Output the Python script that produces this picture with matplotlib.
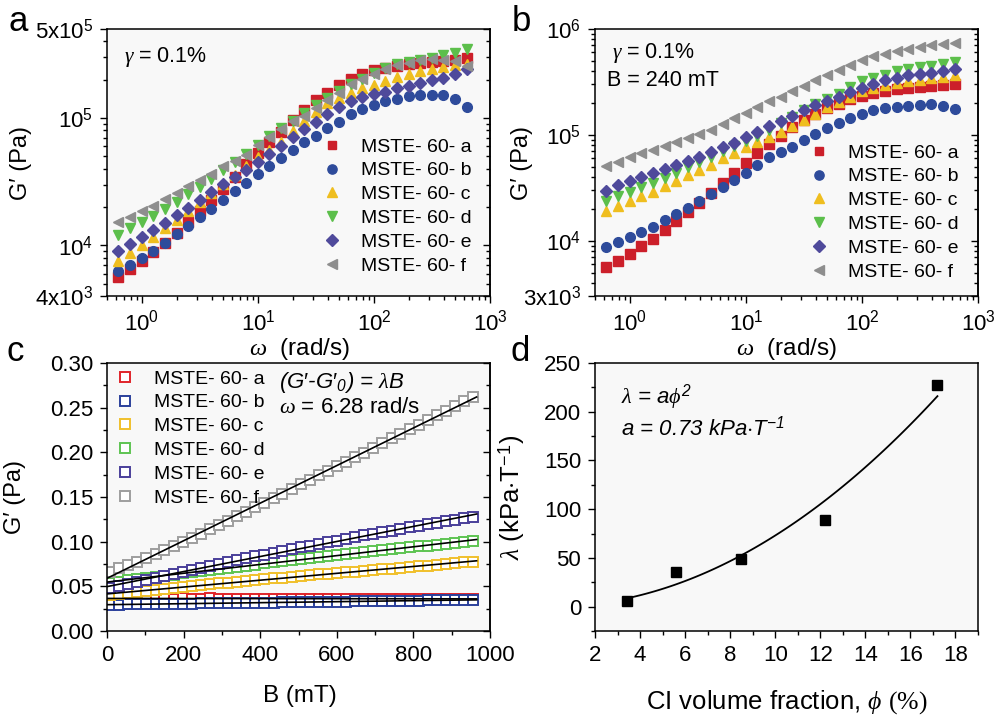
import matplotlib

matplotlib.use("Agg")
import matplotlib.pyplot as plt
import numpy as np
from matplotlib.ticker import FixedLocator, NullFormatter, MultipleLocator, FormatStrFormatter

plt.rcParams["font.family"] = ["Liberation Sans", "DejaVu Sans"]
plt.rcParams["mathtext.fontset"] = "custom"
plt.rcParams["mathtext.rm"] = "Liberation Sans"
plt.rcParams["mathtext.it"] = "Liberation Serif:italic"
plt.rcParams["mathtext.sf"] = "Liberation Sans:italic"
plt.rcParams["mathtext.bf"] = "Liberation Serif"
plt.rcParams["axes.linewidth"] = 1.1

# ---- data (a, b: log10 G') ----
omega = [0.628, 0.791, 0.995, 1.25, 1.58, 1.99, 2.50, 3.15, 3.97, 4.99, 6.28,
         7.91, 9.95, 12.5, 15.8, 19.9, 25.0, 31.5, 39.7, 49.9, 62.8, 79.1,
         99.5, 125, 158, 199, 250, 315, 397, 499, 628]
samples = ["a", "b", "c", "d", "e", "f"]

a_logG_a = [3.755, 3.812, 3.880, 3.950, 4.020, 4.098, 4.184, 4.268, 4.359, 4.445, 4.536, 4.640, 4.723, 4.815, 4.893, 4.984,
            5.065, 5.140, 5.200, 5.258, 5.305, 5.344, 5.375, 5.394, 5.410, 5.422, 5.430, 5.440, 5.448, 5.455, 5.469]
a_logG_b = [3.799, 3.846, 3.903, 3.958, 4.016, 4.088, 4.153, 4.219, 4.289, 4.359, 4.424, 4.492, 4.562, 4.625, 4.688, 4.750,
            4.810, 4.862, 4.919, 4.971, 5.030, 5.070, 5.100, 5.130, 5.153, 5.169, 5.180, 5.184, 5.182, 5.153, 5.083]
a_logG_c = [3.880, 3.937, 4.002, 4.062, 4.133, 4.200, 4.270, 4.340, 4.410, 4.480, 4.550, 4.620, 4.690, 4.750, 4.815, 4.896,
            4.979, 5.049, 5.117, 5.160, 5.200, 5.235, 5.262, 5.291, 5.323, 5.348, 5.370, 5.388, 5.400, 5.414, 5.427]
a_logG_d = [4.080, 4.133, 4.184, 4.231, 4.284, 4.341, 4.401, 4.458, 4.523, 4.588, 4.653, 4.719, 4.791, 4.860, 4.920, 4.980,
            5.040, 5.100, 5.160, 5.210, 5.270, 5.310, 5.350, 5.395, 5.422, 5.440, 5.455, 5.473, 5.495, 5.513, 5.539]
a_logG_e = [3.958, 4.010, 4.062, 4.120, 4.177, 4.237, 4.297, 4.354, 4.419, 4.479, 4.536, 4.594, 4.653, 4.719, 4.780, 4.850,
            4.914, 4.970, 5.030, 5.085, 5.135, 5.165, 5.190, 5.208, 5.234, 5.252, 5.273, 5.297, 5.317, 5.348, 5.383]
a_logG_f = [4.184, 4.219, 4.268, 4.307, 4.362, 4.414, 4.466, 4.510, 4.562, 4.620, 4.661, 4.713, 4.791, 4.854, 4.911, 4.974,
            5.018, 5.078, 5.145, 5.198, 5.265, 5.305, 5.346, 5.385, 5.418, 5.434, 5.453, 5.461, 5.455, 5.448, 5.409]

b_logG_a = [3.748, 3.808, 3.874, 3.947, 4.019, 4.101, 4.186, 4.268, 4.354, 4.454, 4.549, 4.643, 4.738, 4.830, 4.915, 4.990,
            5.070, 5.140, 5.200, 5.250, 5.295, 5.335, 5.370, 5.395, 5.416, 5.432, 5.442, 5.451, 5.457, 5.473, 5.482]
b_logG_b = [3.937, 3.985, 4.032, 4.082, 4.133, 4.196, 4.253, 4.312, 4.378, 4.442, 4.511, 4.574, 4.643, 4.716, 4.789, 4.842,
            4.889, 4.953, 5.009, 5.063, 5.111, 5.158, 5.199, 5.230, 5.253, 5.267, 5.277, 5.286, 5.293, 5.277, 5.245]
b_logG_c = [4.281, 4.328, 4.378, 4.423, 4.464, 4.517, 4.568, 4.622, 4.669, 4.719, 4.779, 4.833, 4.883, 4.930, 4.980, 5.030,
            5.080, 5.140, 5.200, 5.260, 5.310, 5.360, 5.410, 5.442, 5.473, 5.489, 5.504, 5.520, 5.536, 5.551, 5.567]
b_logG_d = [4.378, 4.423, 4.464, 4.505, 4.543, 4.590, 4.643, 4.694, 4.748, 4.795, 4.851, 4.896, 4.940, 4.990, 5.050, 5.110,
            5.170, 5.235, 5.290, 5.340, 5.390, 5.450, 5.504, 5.536, 5.568, 5.599, 5.621, 5.637, 5.653, 5.669, 5.684]
b_logG_e = [4.473, 4.527, 4.568, 4.600, 4.637, 4.675, 4.716, 4.757, 4.795, 4.842, 4.883, 4.927, 4.978, 5.031, 5.080, 5.130,
            5.180, 5.230, 5.280, 5.320, 5.360, 5.400, 5.445, 5.482, 5.514, 5.539, 5.561, 5.577, 5.583, 5.602, 5.625]
b_logG_f = [4.707, 4.748, 4.789, 4.827, 4.858, 4.896, 4.931, 4.969, 5.009, 5.050, 5.100, 5.155, 5.210, 5.262, 5.315, 5.362,
            5.410, 5.463, 5.514, 5.568, 5.615, 5.662, 5.703, 5.741, 5.766, 5.788, 5.810, 5.829, 5.845, 5.861, 5.867]

# ---- data (c: G' vs field) ----
B_mT = [8, 32, 55, 79, 103, 127, 150, 174, 198, 221, 245, 269, 292, 316, 340, 364, 387, 411, 435, 458, 482,
        506, 529, 553, 577, 601, 624, 648, 672, 695, 719, 743, 766, 790, 814, 838, 861, 885, 909, 932, 956]
c_G_a = [0.0366, 0.0365, 0.0364, 0.0365, 0.0364, 0.0363, 0.0364, 0.0363, 0.0364, 0.0363, 0.0363, 0.0364, 0.0363, 0.0362,
         0.0363, 0.0362, 0.0363, 0.0362, 0.0362, 0.0363, 0.0362, 0.0362, 0.0361, 0.0362, 0.0361, 0.0362, 0.0361, 0.0361,
         0.0362, 0.0361, 0.0361, 0.0360, 0.0361, 0.0360, 0.0361, 0.0360, 0.0360, 0.0361, 0.0360, 0.0360, 0.0360]
c_G_b = [0.0295, 0.0296, 0.0298, 0.0299, 0.0300, 0.0302, 0.0303, 0.0304, 0.0306, 0.0307, 0.0308, 0.0310, 0.0311, 0.0312,
         0.0314, 0.0315, 0.0316, 0.0318, 0.0319, 0.0320, 0.0322, 0.0323, 0.0324, 0.0326, 0.0327, 0.0328, 0.0330, 0.0331,
         0.0332, 0.0334, 0.0335, 0.0336, 0.0338, 0.0339, 0.0340, 0.0342, 0.0343, 0.0344, 0.0346, 0.0347, 0.0348]
c_G_c = [0.0405, 0.0417, 0.0428, 0.0439, 0.0450, 0.0461, 0.0472, 0.0482, 0.0492, 0.0502, 0.0512, 0.0522, 0.0532, 0.0542,
         0.0552, 0.0561, 0.0570, 0.0579, 0.0588, 0.0597, 0.0606, 0.0615, 0.0624, 0.0633, 0.0641, 0.0649, 0.0657, 0.0665,
         0.0673, 0.0681, 0.0689, 0.0698, 0.0707, 0.0716, 0.0724, 0.0733, 0.0742, 0.0751, 0.0760, 0.0768, 0.0777]
c_G_d = [0.0540, 0.0553, 0.0567, 0.0580, 0.0593, 0.0606, 0.0619, 0.0632, 0.0645, 0.0658, 0.0671, 0.0683, 0.0696, 0.0708,
         0.0720, 0.0732, 0.0744, 0.0756, 0.0768, 0.0780, 0.0792, 0.0804, 0.0815, 0.0827, 0.0838, 0.0849, 0.0860, 0.0871,
         0.0882, 0.0893, 0.0904, 0.0915, 0.0926, 0.0936, 0.0947, 0.0957, 0.0968, 0.0978, 0.0988, 0.0998, 0.1010]
c_G_e = [0.0480, 0.0504, 0.0527, 0.0550, 0.0573, 0.0596, 0.0619, 0.0641, 0.0663, 0.0685, 0.0707, 0.0729, 0.0750, 0.0771,
         0.0792, 0.0813, 0.0834, 0.0855, 0.0875, 0.0895, 0.0915, 0.0935, 0.0955, 0.0975, 0.0994, 0.1013, 0.1032, 0.1051,
         0.1070, 0.1088, 0.1106, 0.1124, 0.1142, 0.1160, 0.1177, 0.1194, 0.1211, 0.1228, 0.1245, 0.1262, 0.1279]
c_G_f = [0.0665, 0.0700, 0.0737, 0.0776, 0.0817, 0.0860, 0.0904, 0.0949, 0.0995, 0.1042, 0.1090, 0.1138, 0.1187, 0.1236,
         0.1286, 0.1336, 0.1386, 0.1437, 0.1488, 0.1539, 0.1590, 0.1641, 0.1692, 0.1743, 0.1794, 0.1845, 0.1896, 0.1947,
         0.1998, 0.2049, 0.2100, 0.2155, 0.2207, 0.2259, 0.2311, 0.2363, 0.2415, 0.2467, 0.2519, 0.2571, 0.2623]

# ---- data (d: lambda vs CI fraction) ----
phi_pct = [3.4, 5.6, 8.5, 12.2, 17.2]
lam_kPa_T = [6, 36, 49, 89, 227]
a_fit = 0.73

MARKERS = ["s", "o", "^", "v", "D", "<"]
FILLED = ["#cc1f2a", "#2e4b9b", "#efbe1f", "#5cbf4b", "#4f4a9b", "#8e8e8e"]
OPEN = ["#e0242a", "#2b409b", "#f0c02c", "#5ec452", "#4a3f9a", "#9e9e9e"]
MSIZE = [6.5, 7.0, 7.5, 7.5, 6.5, 7.5]
BG = "#f8f8f8"
TICK_FS = 16

W, H = 997, 715
fig = plt.figure(figsize=(W / 100, H / 100), dpi=100)


def box(l, t, r, b):
    return [l / W, 1 - b / H, (r - l) / W, (b - t) / H]


def fpos(x, y):
    return x / W, 1 - y / H


def style(ax, yticks=None, yminor=None, right=True):
    ax.set_facecolor(BG)
    ax.tick_params(which="both", direction="out", width=1.0, labelsize=TICK_FS, top=False, right=False, pad=5)
    ax.tick_params(which="major", length=5)
    ax.tick_params(which="minor", length=3)
    if right:
        sec = ax.secondary_yaxis("right")
        if yticks is not None:
            sec.yaxis.set_major_locator(FixedLocator(yticks))
        if yminor is not None:
            sec.yaxis.set_minor_locator(FixedLocator(yminor))
        sec.yaxis.set_major_formatter(NullFormatter())
        sec.yaxis.set_minor_formatter(NullFormatter())
        sec.tick_params(which="both", direction="in", width=1.0)
        sec.tick_params(which="major", length=5)
        sec.tick_params(which="minor", length=3)


def log_panel(ax, series, ylim, yticks, ylabels, yminor):
    for logG, m, col, ms, s in zip(series, MARKERS, FILLED, MSIZE, samples):
        ax.plot(omega, 10 ** np.array(logG), ls="none", marker=m, ms=ms, color=col,
                mec=col, label=f"MSTE- 60- {s}")
    ax.set_xscale("log")
    ax.set_yscale("log")
    ax.set_xlim(0.5, 1000)
    ax.set_ylim(*ylim)
    ax.yaxis.set_major_locator(FixedLocator(yticks))
    ax.yaxis.set_minor_locator(FixedLocator(yminor))
    ax.yaxis.set_minor_formatter(NullFormatter())
    ax.set_yticklabels(ylabels)
    style(ax, yticks, yminor)
    ax.set_xlabel(r"$\omega$  (rad/s)", fontsize=17.5)
    ax.set_ylabel("G\u2032 (Pa)", fontsize=17)


def panel_legend(ax, x, y, **kw):
    ax.legend(loc="upper left", bbox_to_anchor=fpos(x, y), bbox_transform=fig.transFigure,
              frameon=False, fontsize=14, handlelength=1.0, handletextpad=1.0, labelspacing=0.32,
              borderpad=0, borderaxespad=0, numpoints=1, **kw)


# ---- panel a ----
ax_a = fig.add_axes(box(107, 29, 490, 296))
minor_a = [5e3, 6e3, 7e3, 8e3, 9e3, 2e4, 3e4, 4e4, 5e4, 6e4, 7e4, 8e4, 9e4, 2e5, 3e5, 4e5]
log_panel(ax_a, [a_logG_a, a_logG_b, a_logG_c, a_logG_d, a_logG_e, a_logG_f],
          (4e3, 5e5), [4e3, 1e4, 1e5, 5e5],
          ["4x10$^3$", "10$^4$", "10$^5$", "5x10$^5$"], minor_a)
ax_a.xaxis.set_label_coords(0.504, -0.15)
ax_a.yaxis.set_label_coords(-0.196, 0.5)
panel_legend(ax_a, 322, 138, markerscale=0.95)
fig.text(*fpos(124, 62), r"$\gamma$ = 0.1%", fontsize=15.5, va="baseline")

# ---- panel b ----
ax_b = fig.add_axes(box(595, 29, 978, 296))
minor_b = [4e3, 5e3, 6e3, 7e3, 8e3, 9e3, 2e4, 3e4, 4e4, 5e4, 6e4, 7e4, 8e4, 9e4,
           2e5, 3e5, 4e5, 5e5, 6e5, 7e5, 8e5, 9e5]
log_panel(ax_b, [b_logG_a, b_logG_b, b_logG_c, b_logG_d, b_logG_e, b_logG_f],
          (3e3, 1e6), [3e3, 1e4, 1e5, 1e6],
          ["3x10$^3$", "10$^4$", "10$^5$", "10$^6$"], minor_b)
ax_b.xaxis.set_label_coords(0.50, -0.15)
ax_b.yaxis.set_label_coords(-0.161, 0.5)
panel_legend(ax_b, 809, 144, markerscale=0.95)
fig.text(*fpos(612, 58), r"$\gamma$ = 0.1%", fontsize=15.5, va="baseline")
fig.text(*fpos(607, 86), "B = 240 mT", fontsize=15.5, va="baseline")

# ---- panel c ----
ax_c = fig.add_axes(box(107, 363, 490, 631))
series_c = [c_G_a, c_G_b, c_G_c, c_G_d, c_G_e, c_G_f]
for G, col, s in zip(series_c, OPEN, samples):
    ax_c.plot(B_mT, G, ls="none", marker="s", ms=7, mfc="white", mec=col, mew=1.4,
              label=f"MSTE- 60- {s}")
for G in series_c:
    slope, icpt = np.polyfit(B_mT, G, 1)
    bb = np.array([0, 965])
    ax_c.plot(bb, icpt + slope * bb, color="black", lw=1.2, zorder=5)
ax_c.set_xlim(0, 1000)
ax_c.set_ylim(0, 0.30)
ax_c.xaxis.set_major_locator(MultipleLocator(200))
ax_c.xaxis.set_minor_locator(MultipleLocator(100))
ax_c.yaxis.set_major_locator(MultipleLocator(0.05))
ax_c.yaxis.set_minor_locator(MultipleLocator(0.025))
ax_c.yaxis.set_major_formatter(FormatStrFormatter("%.2f"))
style(ax_c, list(np.arange(0, 0.31, 0.05)), list(np.arange(0.025, 0.3, 0.05)))
ax_c.set_xlabel("B (mT)", fontsize=17.5)
ax_c.set_ylabel("G\u2032 (Pa)", fontsize=17)
ax_c.xaxis.set_label_coords(0.504, -0.2)
ax_c.yaxis.set_label_coords(-0.211, 0.5)
panel_legend(ax_c, 115, 370, markerscale=0.93)
fig.text(*fpos(279, 388), r"(G$\prime$-G$\prime_{\mathsf{0}}$) = $\lambda$B", fontsize=16,
         style="italic", va="baseline")
fig.text(*fpos(279, 413), r"$\omega$ = 6.28 rad/s", fontsize=16, va="baseline")

# ---- panel d ----
ax_d = fig.add_axes(box(595, 363, 978, 631))
ax_d.plot(phi_pct, lam_kPa_T, ls="none", marker="s", ms=7, color="black")
pp = np.linspace(phi_pct[0], phi_pct[-1], 100)
ax_d.plot(pp, a_fit * pp ** 2, color="black", lw=1.3)
ax_d.set_xlim(2, 19)
ax_d.set_ylim(-25, 250)
ax_d.xaxis.set_major_locator(MultipleLocator(2))
ax_d.xaxis.set_minor_locator(MultipleLocator(1))
ax_d.yaxis.set_major_locator(MultipleLocator(50))
ax_d.yaxis.set_minor_locator(MultipleLocator(25))
style(ax_d, right=False)
ax_d.set_xlabel(r"CI volume fraction, $\phi$ $\mathbf{(\%)}$", fontsize=18.5)
ax_d.set_ylabel(r"$\lambda$ (kPa$\cdot$T$^{-1}$)", fontsize=18.5)
ax_d.xaxis.set_label_coords(0.50, -0.215)
ax_d.yaxis.set_label_coords(-0.177, 0.5)
fig.text(*fpos(621, 403), r"$\lambda$ = a$\phi^{\mathsf{2}}$", fontsize=16, style="italic", va="baseline")
fig.text(*fpos(621, 435), r"a = 0.73 kPa$\cdot$T$^{\mathsf{-1}}$", fontsize=16, style="italic", va="baseline")

# ---- panel letters ----
for letter, x, y in [("a", 8, 31), ("b", 512, 31), ("c", 6, 361), ("d", 511, 361)]:
    fig.text(*fpos(x, y), letter, fontsize=25, va="baseline")

fig.savefig("out.png", dpi=100, facecolor="white")
